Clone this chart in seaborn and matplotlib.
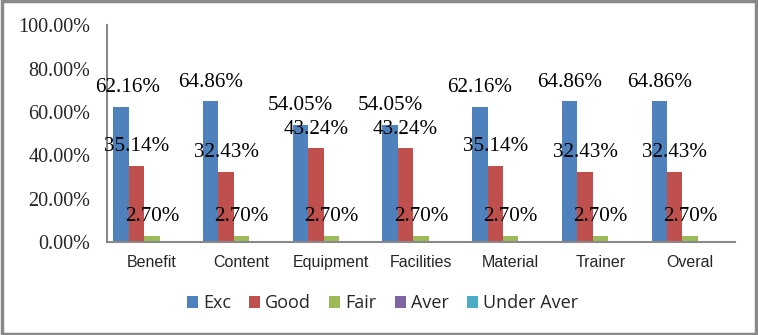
import matplotlib
matplotlib.use("Agg")
import matplotlib.pyplot as plt
from matplotlib.patches import Rectangle
import seaborn as sns
import pandas as pd

categories = ["Benefit", "Content", "Equipment", "Facilities", "Material", "Trainer", "Overal"]
series_names = ["Exc", "Good", "Fair", "Aver", "Under Aver"]
exc = [62.16, 64.86, 54.05, 54.05, 62.16, 64.86, 64.86]
good = [35.14, 32.43, 43.24, 43.24, 35.14, 32.43, 32.43]
fair = [2.70, 2.70, 2.70, 2.70, 2.70, 2.70, 2.70]
aver = [0, 0, 0, 0, 0, 0, 0]
under_aver = [0, 0, 0, 0, 0, 0, 0]
y_ticks = [0, 20, 40, 60, 80, 100]

colors = ["#4F81BD", "#C0504D", "#9BBB59", "#8064A2", "#4BACC6"]

rows = []
for name, vals in zip(series_names, [exc, good, fair, aver, under_aver]):
    for cat, v in zip(categories, vals):
        rows.append({"Category": cat, "Rating": name, "Percent": v})
df = pd.DataFrame(rows)

sns.set_theme(style="white")
serif = ["Liberation Serif", "DejaVu Serif"]
sans = ["Liberation Sans", "DejaVu Sans"]

fig = plt.figure(figsize=(7.58, 3.35), dpi=100)
ax = fig.add_axes([0.1412, 0.2776, 0.8285, 0.6474])

sns.barplot(data=df, x="Category", y="Percent", hue="Rating",
            hue_order=series_names, order=categories, palette=colors,
            width=0.86, gap=0, saturation=1, errorbar=None, ax=ax,
            linewidth=0, legend=True)

ax.set_ylim(0, 100)
ax.set_xlim(-0.5, len(categories) - 0.5)
ax.set_yticks(y_ticks)
ax.set_yticklabels([f"{t:.2f}%" for t in y_ticks], fontfamily=serif, fontsize=14.5)
ax.set_xticks(range(len(categories)))
ax.set_xticklabels(categories, fontfamily=sans, fontsize=11.5)
ax.tick_params(axis="y", length=0, pad=12)
ax.tick_params(axis="x", length=0, pad=9)
ax.set_xlabel("")
ax.set_ylabel("")

for side in ["top", "right"]:
    ax.spines[side].set_visible(False)
for side in ["left", "bottom"]:
    ax.spines[side].set_color("#898989")
    ax.spines[side].set_linewidth(1.5)

# value labels on the first three series
for container, vals in zip(ax.containers[:3], [exc, good, fair]):
    labels = ax.bar_label(container, labels=[f"{v:.2f}%" for v in vals],
                          padding=7, fontsize=15.2, fontfamily=serif, color="black")
    for t in labels:
        t.set_clip_on(False)
    if container is ax.containers[0]:
        # keep the first label clear of the value axis
        labels[0].xyann = (5, 7)

handles, texts = ax.get_legend_handles_labels()
ax.get_legend().remove()
fig.legend(handles, texts, loc="center", bbox_to_anchor=(0.5046, 0.095), ncol=5,
           frameon=False, prop={"family": ["Open Sans", "DejaVu Sans"], "size": 13},
           handlelength=0.6, handleheight=0.6, handletextpad=0.3,
           columnspacing=1.0, borderaxespad=0, borderpad=0)

# chart border
fig.patches.append(Rectangle((0.002, 0.004), 0.996, 0.992, transform=fig.transFigure,
                             fill=False, edgecolor="#898989", linewidth=2.5))

fig.savefig("out.png", dpi=100)
